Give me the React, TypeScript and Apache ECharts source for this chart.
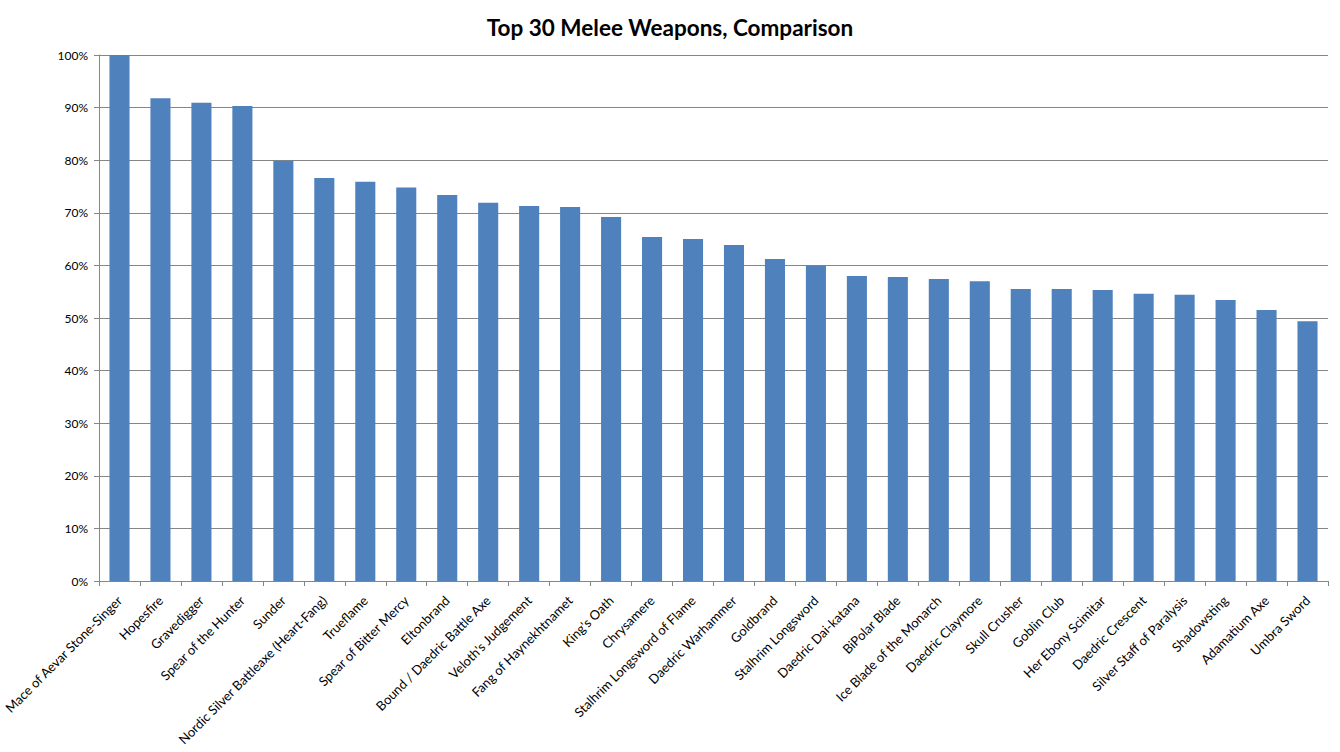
import React, { useEffect, useRef } from "react";
import * as echarts from "echarts";

const weapons = [
  "Mace of Aevar Stone-Singer",
  "Hopesfire",
  "Gravedigger",
  "Spear of the Hunter",
  "Sunder",
  "Nordic Silver Battleaxe (Heart-Fang)",
  "Trueflame",
  "Spear of Bitter Mercy",
  "Eltonbrand",
  "Bound / Daedric Battle Axe",
  "Veloth's Judgement",
  "Fang of Haynekhtnamet",
  "King's Oath",
  "Chrysamere",
  "Stalhrim Longsword of Flame",
  "Daedric Warhammer",
  "Goldbrand",
  "Stalhrim Longsword",
  "Daedric Dai-katana",
  "BiPolar Blade",
  "Ice Blade of the Monarch",
  "Daedric Claymore",
  "Skull Crusher",
  "Goblin Club",
  "Her Ebony Scimitar",
  "Daedric Crescent",
  "Silver Staff of Paralysis",
  "Shadowsting",
  "Adamatium Axe",
  "Umbra Sword",
];

const scores = [
  100, 91.8, 90.9, 90.3, 79.9, 76.6, 75.9, 74.8, 73.4, 71.9, 71.3, 71.1, 69.2,
  65.4, 65.0, 63.9, 61.2, 60.0, 58.0, 57.8, 57.4, 57.0, 55.5, 55.5, 55.3, 54.6,
  54.4, 53.4, 51.5, 49.4,
];

const title = "Top 30 Melee Weapons, Comparison";

export default function App() {
  const ref = useRef<HTMLDivElement>(null);
  useEffect(() => {
    document.body.style.margin = "0";
    const chart = echarts.init(ref.current!, null, { renderer: "svg" });
    chart.setOption({
      animation: false,
      backgroundColor: "#ffffff",
      title: {
        text: title,
        left: "center",
        top: 11,
        textStyle: {
          fontFamily: "Lato",
          fontWeight: "bold",
          fontSize: 22.5,
          color: "#000000",
        },
      },
      grid: { left: 99, right: 12, top: 55, bottom: 171, containLabel: false },
      xAxis: {
        type: "category",
        data: weapons,
        boundaryGap: true,
        axisLine: { show: true, lineStyle: { color: "#868686", width: 1 } },
        axisTick: { show: true, length: 5, lineStyle: { color: "#868686" } },
        axisLabel: {
          interval: 0,
          rotate: 45,
          margin: 17,
          fontFamily: "Lato",
          fontSize: 13,
          color: "#000000",
        },
      },
      yAxis: {
        type: "value",
        min: 0,
        max: 100,
        interval: 10,
        axisLine: { show: true, lineStyle: { color: "#868686", width: 1 } },
        axisTick: { show: true, length: 5, lineStyle: { color: "#868686" } },
        splitLine: { show: true, lineStyle: { color: "#868686", width: 1 } },
        axisLabel: {
          formatter: (v: number) => v + "%",
          margin: 11,
          fontFamily: "Lato",
          fontSize: 12,
          color: "#000000",
        },
      },
      series: [
        {
          type: "bar",
          data: scores,
          barWidth: "49%",
          itemStyle: { color: "#4F81BD" },
        },
      ],
    });
    return () => chart.dispose();
  }, []);
  return <div ref={ref} style={{ width: 1340, height: 752 }} />;
}
